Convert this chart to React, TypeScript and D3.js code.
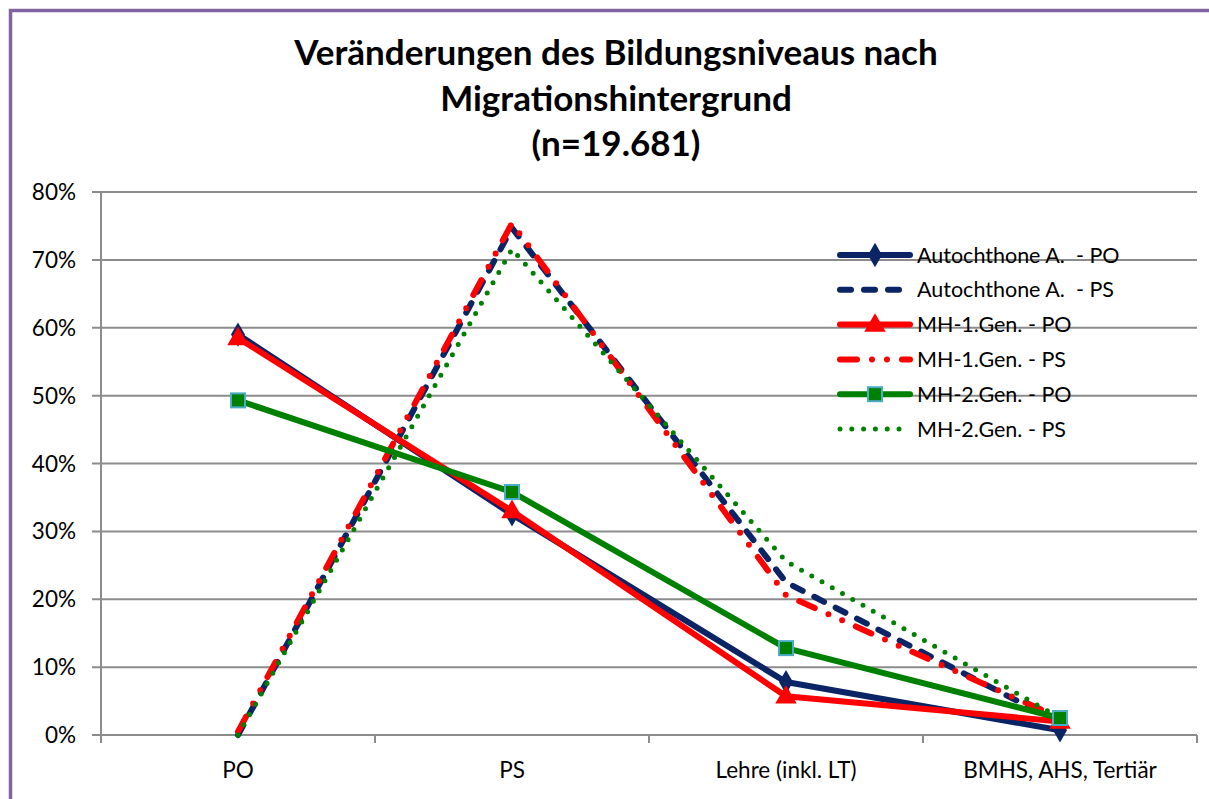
import React from "react";
import * as d3 from "d3";

const categories = ["PO", "PS", "Lehre (inkl. LT)", "BMHS, AHS, Tertiär"];
const autoPO = [0.59, 0.325, 0.078, 0.007];
const autoPS = [0.0, 0.747, 0.225, 0.018];
const mh1PO = [0.585, 0.33, 0.057, 0.02];
const mh1PS = [0.005, 0.754, 0.206, 0.025];
const mh2PO = [0.493, 0.358, 0.128, 0.025];
const mh2PS = [0.0, 0.716, 0.256, 0.025];
const yTicks = [0, 0.1, 0.2, 0.3, 0.4, 0.5, 0.6, 0.7, 0.8];
const titleLines = ["Veränderungen des Bildungsniveaus nach", "Migrationshintergrund", "(n=19.681)"];

type S = {
  name: string;
  values: number[];
  color: string;
  width: number;
  dash?: string;
  marker?: "diamond" | "triangle" | "square";
};

const NAVY = "#0b2466";
const RED = "#ff0000";
const GREEN = "#008000";

const series: S[] = [
  { name: "Autochthone A.  - PO", values: autoPO, color: NAVY, width: 6, marker: "diamond" },
  { name: "Autochthone A.  - PS", values: autoPS, color: NAVY, width: 6, dash: "11 13" },
  { name: "MH-1.Gen. - PO", values: mh1PO, color: RED, width: 6, marker: "triangle" },
  { name: "MH-1.Gen. - PS", values: mh1PS, color: RED, width: 6, dash: "17 15 0 15 0 15" },
  { name: "MH-2.Gen. - PO", values: mh2PO, color: GREEN, width: 6, marker: "square" },
  { name: "MH-2.Gen. - PS", values: mh2PS, color: GREEN, width: 5, dash: "0 11.8" },
];

const FONT = "Lato, 'Open Sans', sans-serif";

function Marker({ kind, x, y, color }: { kind: string; x: number; y: number; color: string }) {
  if (kind === "diamond") {
    const p = d3.symbol().type(d3.symbolDiamond).size(170)();
    return <path d={p || ""} transform={`translate(${x},${y})`} fill={color} />;
  }
  if (kind === "triangle") {
    const p = d3.symbol().type(d3.symbolTriangle).size(200)();
    return <path d={p || ""} transform={`translate(${x},${y + 1})`} fill={color} />;
  }
  return (
    <rect x={x - 7} y={y - 7} width={14} height={14} fill={color} stroke="#4bacc6" strokeWidth={2} />
  );
}

export default function App() {
  const x = d3.scaleBand<string>().domain(categories).range([101, 1197]);
  const y = d3.scaleLinear().domain([0, 0.8]).range([735, 192]);
  const cx = (c: string) => (x(c) as number) + x.bandwidth() / 2;
  const line = d3
    .line<number>()
    .x((_, i) => cx(categories[i]))
    .y((d) => y(d));

  const bounds = [...categories.map((c) => x(c) as number), 1197];
  const legendY0 = 255;
  const legendStep = 34.8;

  return (
    <svg
      width={1209}
      height={799}
      style={{ position: "absolute", left: 0, top: 0, background: "#fff" }}
      fontFamily={FONT}
    >
      <rect x={0} y={0} width={1209} height={799} fill="#fff" />
      <rect x={10.5} y={10.5} width={1214} height={800} fill="none" stroke="#8064a2" strokeWidth={3.5} />

      {titleLines.map((t, i) => (
        <text
          key={i}
          x={616}
          y={65 + i * 45.5}
          textAnchor="middle"
          fontSize={35}
          fontWeight="bold"
          fill="#000"
        >
          {t}
        </text>
      ))}

      {yTicks.map((t) => (
        <g key={t}>
          <line x1={92} x2={1197} y1={y(t)} y2={y(t)} stroke="#8c8c8c" strokeWidth={2} />
          <text x={76} y={y(t) + 8} textAnchor="end" fontSize={22.5} fill="#000">
            {d3.format(".0%")(t)}
          </text>
        </g>
      ))}
      <line x1={101} x2={101} y1={192} y2={743} stroke="#8c8c8c" strokeWidth={2} />
      {bounds.map((b, i) => (
        <line key={i} x1={b} x2={b} y1={735} y2={743} stroke="#8c8c8c" strokeWidth={2} />
      ))}
      {categories.map((c) => (
        <text key={c} x={cx(c)} y={778} textAnchor="middle" fontSize={22.5} fill="#000">
          {c}
        </text>
      ))}

      {series.map((s) => (
        <g key={s.name}>
          <path
            d={line(s.values) || ""}
            fill="none"
            stroke={s.color}
            strokeWidth={s.width}
            strokeDasharray={s.dash}
            strokeLinecap="round"
            strokeLinejoin="round"
          />
          {s.marker &&
            s.values.map((v, i) => (
              <Marker key={i} kind={s.marker as string} x={cx(categories[i])} y={y(v)} color={s.color} />
            ))}
        </g>
      ))}

      {series.map((s, i) => {
        const ly = legendY0 + i * legendStep;
        return (
          <g key={"lg" + s.name}>
            <line
              x1={840}
              x2={910}
              y1={ly}
              y2={ly}
              stroke={s.color}
              strokeWidth={s.width}
              strokeDasharray={s.dash}
              strokeLinecap="round"
            />
            {s.marker && <Marker kind={s.marker} x={875} y={ly} color={s.color} />}
            <text x={917} y={ly + 7.5} fontSize={21.5} fill="#000" xmlSpace="preserve" style={{ whiteSpace: "pre" }}>
              {s.name}
            </text>
          </g>
        );
      })}
    </svg>
  );
}
